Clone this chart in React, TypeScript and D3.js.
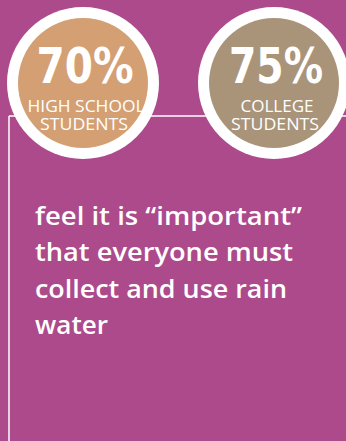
import React from "react";
import * as d3 from "d3";

const groups = ["high", "college"];
const percents = [70, 75];
const labelLine1 = ["HIGH SCHOOL", "COLLEGE"];
const labelLine2 = ["STUDENTS", "STUDENTS"];
const fills = ["#D49F72", "#A99479"];
const bodyLines = [
  "feel it is \u201cimportant\u201d",
  "that everyone must",
  "collect and use rain",
  "water",
];
const bodyWidths = [267, 258, 252, 73];

const W = 346;
const H = 441;
const BG = "#AD4A8C";

export default function App() {
  const x = d3.scalePoint<string>().domain(groups).range([83, 274]);
  const cy = 83;
  const rOuter = 76;
  const ring = 11;
  const lineY = 116;
  const bodyY = d3.scaleLinear().domain([0, 3]).range([225, 334]);

  return (
    <svg
      width={W}
      height={H}
      style={{ position: "absolute", left: 0, top: 0, display: "block" }}
    >
      <rect x={0} y={0} width={W} height={H} fill={BG} />
      <line x1={9} y1={lineY} x2={W} y2={lineY} stroke="#fff" strokeWidth={1.5} />
      <line x1={9} y1={lineY} x2={9} y2={H} stroke="#fff" strokeWidth={1.5} />
      {groups.map((g, i) => {
        const cx = x(g)!;
        return (
          <g key={g}>
            <circle cx={cx} cy={cy} r={rOuter} fill="#fff" />
            <circle cx={cx} cy={cy} r={rOuter - ring} fill={fills[i]} />
            <text
              x={cx + 2}
              y={83}
              textAnchor="middle"
              fill="#fff"
              fontFamily="'DejaVu Sans Condensed', 'DejaVu Sans'"
              fontWeight="bold"
              fontSize={49}
              textLength={i === 0 ? 97 : 94}
              lengthAdjust="spacingAndGlyphs"
            >
              {percents[i] + "%"}
            </text>
            <text
              x={cx + 3}
              y={112}
              textAnchor="middle"
              fill="#fff"
              fontFamily="Open Sans"
              fontWeight={400}
              fontSize={16}
              textLength={i === 0 ? 117 : 73}
              lengthAdjust="spacingAndGlyphs"
            >
              {labelLine1[i]}
            </text>
            <text
              x={cx + 1}
              y={130}
              textAnchor="middle"
              fill="#fff"
              fontFamily="Open Sans"
              fontWeight={400}
              fontSize={16}
              textLength={88}
              lengthAdjust="spacingAndGlyphs"
            >
              {labelLine2[i]}
            </text>
          </g>
        );
      })}
      {bodyLines.map((t, i) => (
        <text
          key={i}
          x={35}
          y={bodyY(i)}
          fill="#fff"
          fontFamily="Open Sans"
          fontWeight={600}
          fontSize={26}
          textLength={bodyWidths[i]}
          lengthAdjust="spacingAndGlyphs"
        >
          {t}
        </text>
      ))}
    </svg>
  );
}
